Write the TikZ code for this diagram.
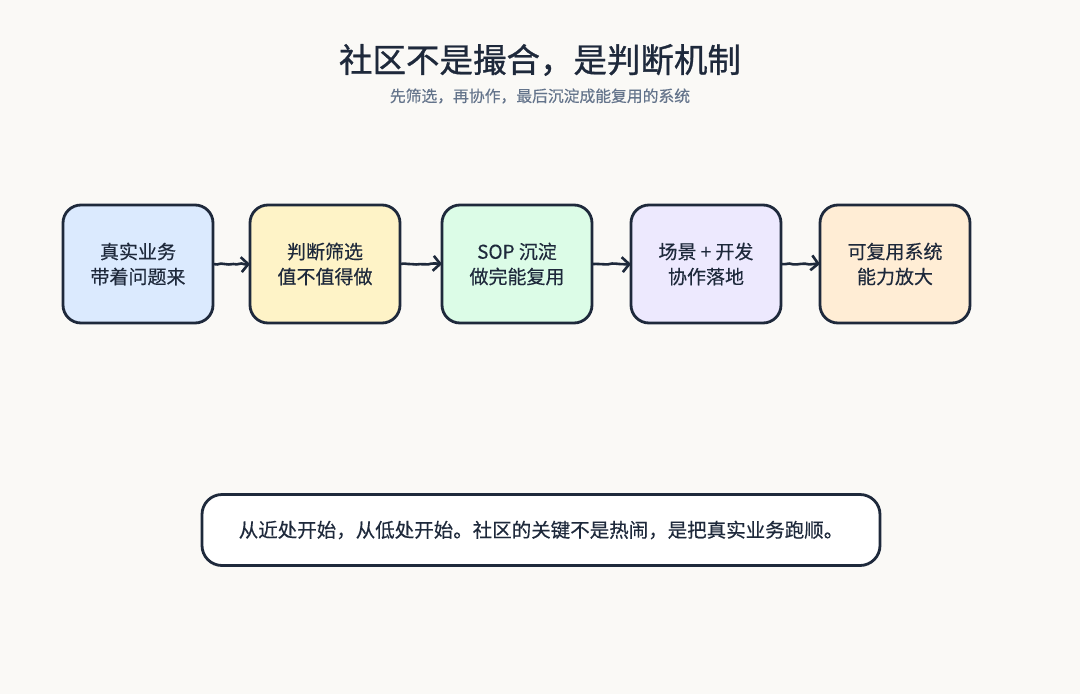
\documentclass[tikz,border=0pt]{standalone}
\usepackage{fontspec}
\setmainfont{Noto Sans CJK SC}
\newfontfamily\headfont{Noto Sans CJK SC}[FakeBold=0.9]
\newfontfamily\bodyfont{Noto Sans CJK SC}[FakeBold=0.35]
\usetikzlibrary{positioning}
\usetikzlibrary{arrows.meta}
\usetikzlibrary{decorations.pathmorphing}

\definecolor{ink}{HTML}{1E293B}
\definecolor{paper}{HTML}{FAF9F6}
\definecolor{subgrey}{HTML}{64748B}
\definecolor{blueish}{HTML}{DBEAFE}
\definecolor{yellowish}{HTML}{FEF3C7}
\definecolor{greenish}{HTML}{DCFCE7}
\definecolor{violetish}{HTML}{EDE9FE}
\definecolor{orangeish}{HTML}{FFEDD5}

\begin{document}
\begin{tikzpicture}[x=1pt,y=-1pt,
	stage/.style={draw=ink, line width=2.8pt, rounded corners=18pt, outer sep=0pt, minimum width=150pt, minimum height=118pt, align=center, text=ink, font=\bodyfont\fontsize{19}{25}\selectfont},
	flow/.style={draw=ink, line width=2.6pt, decorate, decoration={random steps, segment length=4pt, amplitude=0.5pt}, -{Straight Barb[length=7pt,width=15pt]}}]
	\fill[paper] (0,0) rectangle (1080,694);

	\node (title) [text=ink, font=\headfont\fontsize{33.5}{38}\selectfont] at (540,60) {社区不是撮合，是判断机制};
	\node (subtitle) [text=subgrey, font=\bodyfont\fontsize{15.8}{18}\selectfont] at (540,96) {先筛选，再协作，最后沉淀成能复用的系统};

	\node[stage, fill=blueish] (real) at (138,264) {真实业务\\带着问题来};
	\node[stage, fill=yellowish] (judge) [right=37pt of real] {判断筛选\\值不值得做};
	\node[stage, fill=greenish] (sop) [right=42pt of judge] {SOP 沉淀\\做完能复用};
	\node[stage, fill=violetish] (scene) [right=39pt of sop] {场景 + 开发\\协作落地};
	\node[stage, fill=orangeish] (reuse) [right=39pt of scene] {可复用系统\\能力放大};

	\node[draw=ink, line width=2.8pt, rounded corners=20pt, fill=white, minimum width=678pt, minimum height=71pt, text=ink, font=\bodyfont\fontsize{19.5}{22}\selectfont] (motto) at (541,530) {从近处开始，从低处开始。社区的关键不是热闹，是把真实业务跑顺。};

	\path [flow] (real) -- (judge);
	\path [flow] (judge) -- (sop);
	\path [flow] (sop) -- (scene);
	\path [flow] (scene) -- (reuse);
\end{tikzpicture}
\end{document}
